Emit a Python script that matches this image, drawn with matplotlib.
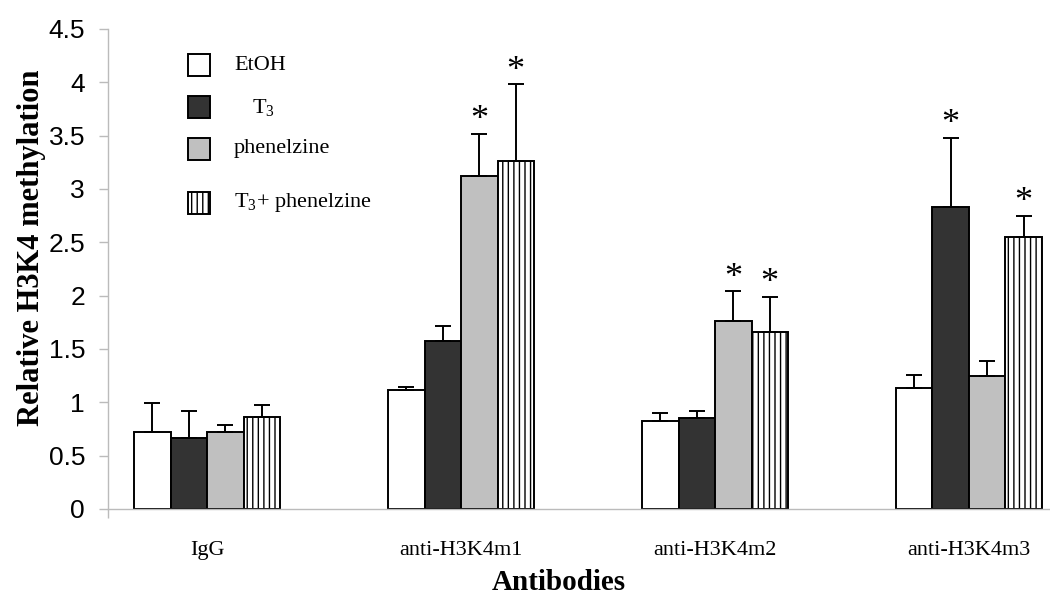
import matplotlib
matplotlib.use("Agg")
import matplotlib.pyplot as plt
from matplotlib.patches import Rectangle
import numpy as np

# ---- data ----
antibodies = ["IgG", "anti-H3K4m1", "anti-H3K4m2", "anti-H3K4m3"]
treatments = ["EtOH", "$\\mathregular{T_3}$", "phenelzine", "$\\mathregular{T_3}$+ phenelzine"]

etoh = [0.72, 1.115, 0.825, 1.134]
t3 = [0.665, 1.575, 0.853, 2.83]
phenelzine = [0.72, 3.12, 1.76, 1.25]
t3_phen = [0.86, 3.26, 1.66, 2.55]

etoh_err = [0.27, 0.025, 0.075, 0.12]
t3_err = [0.255, 0.14, 0.067, 0.65]
phenelzine_err = [0.07, 0.40, 0.28, 0.14]
t3_phen_err = [0.115, 0.72, 0.33, 0.20]

# significance markers (*) per series
etoh_sig = [False, False, False, False]
t3_sig = [False, False, False, True]
phenelzine_sig = [False, True, True, False]
t3_phen_sig = [False, True, True, True]

serif = "Liberation Serif"
sans = "Liberation Sans"
plt.rcParams["font.family"] = serif
plt.rcParams["mathtext.fontset"] = "stix"
plt.rcParams["hatch.linewidth"] = 1.0

fig = plt.figure(figsize=(10.5, 6.09), dpi=100)
ax = fig.add_axes([108 / 1050, 100 / 609, 942 / 1050, 480 / 609])

x = np.arange(len(antibodies))
w = 0.1437
series = [
    (etoh, etoh_err, etoh_sig, "white", ""),
    (t3, t3_err, t3_sig, "#333333", ""),
    (phenelzine, phenelzine_err, phenelzine_sig, "#c0c0c0", ""),
    (t3_phen, t3_phen_err, t3_phen_sig, "white", "|||"),
]

for i, (vals, errs, sigs, col, hatch) in enumerate(series):
    pos = x + (i - 1.5) * w
    ax.bar(pos, vals, width=w, color=col, edgecolor="black", linewidth=1.4,
           hatch=hatch, zorder=2)
    ax.errorbar(pos, vals, yerr=[np.zeros(len(vals)), errs], fmt="none",
                ecolor="black", elinewidth=1.4, capsize=5.5, capthick=1.4, zorder=3)
    for p, v, e, s in zip(pos, vals, errs, sigs):
        if s:
            ax.text(p, v + e - 0.03, "*", ha="center", va="bottom",
                    fontsize=26, fontfamily=serif)

ax.set_xlim(-0.39, 3.319)
ax.set_ylim(0, 4.5)
ax.set_yticks(np.arange(0, 4.51, 0.5))
ax.set_yticklabels(["0", "0.5", "1", "1.5", "2", "2.5", "3", "3.5", "4", "4.5"],
                   fontfamily=sans, fontsize=19)
ax.tick_params(axis="y", length=6.5, width=1, color="#bbbbbb", pad=10)

ax.set_xticks(x)
ax.set_xticklabels(antibodies, fontsize=16)
ax.tick_params(axis="x", length=0, pad=23)
ax.set_xticks([-0.39], minor=True)
ax.tick_params(axis="x", which="minor", length=6.5, width=1, color="#bbbbbb")

for side in ["top", "right"]:
    ax.spines[side].set_visible(False)
for side in ["left", "bottom"]:
    ax.spines[side].set_color("#bbbbbb")
    ax.spines[side].set_linewidth(1)

ax.set_ylabel("Relative H3K4 methylation", fontsize=22, fontweight="bold")
ax.yaxis.set_label_coords(-0.066, 0.544)
ax.set_xlabel("Antibodies", fontsize=21, fontweight="bold", va="center")
ax.xaxis.set_label_coords(0.479, -0.154)

# hand-placed legend like the original
rows = [0.925, 0.8375, 0.75, 0.6375]
text_x = [0.1338, 0.153, 0.1338, 0.1338]
for (vals, errs, sigs, col, hatch), label, ry, tx in zip(series, treatments, rows, text_x):
    ax.add_patch(Rectangle((0.0849, ry - 0.0229), 0.0234, 0.0458, transform=ax.transAxes,
                           facecolor=col, edgecolor="black", linewidth=1.4, hatch=hatch,
                           clip_on=False))
    ax.text(tx, ry, label, transform=ax.transAxes, fontsize=16, va="center", ha="left")

fig.savefig("out.png", dpi=100)
